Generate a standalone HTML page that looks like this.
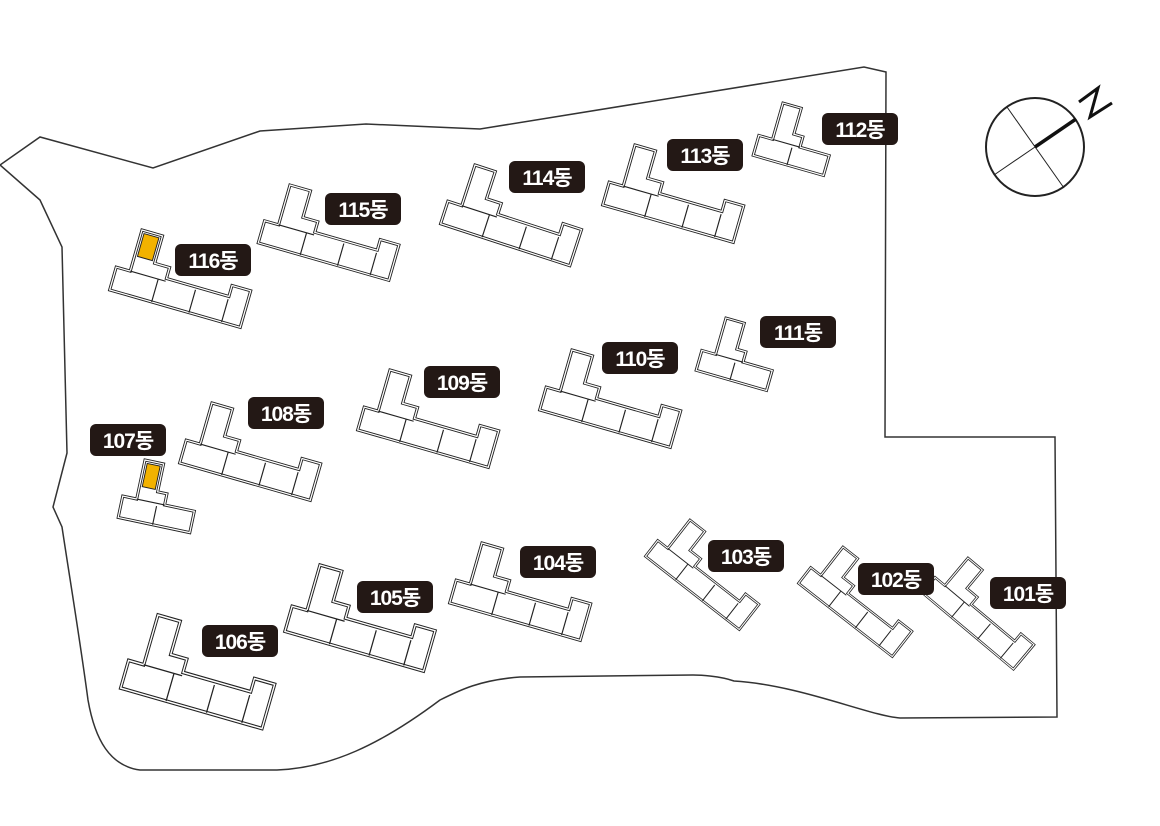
<!DOCTYPE html>
<html><head><meta charset="utf-8"><style>
html,body{margin:0;padding:0;background:#fff;}
svg{display:block}
.b{fill:#fff;stroke:#222;stroke-width:3.2;stroke-linejoin:miter}
.bi{fill:none;stroke:#fff;stroke-width:1.3}
.in{stroke:#222;stroke-width:1.2;fill:none}
.lb text{font-family:"Liberation Sans","Noto Sans CJK KR",sans-serif;font-weight:bold;font-size:21px;fill:#fff;letter-spacing:-1px}
</style></head><body>
<svg width="1160" height="826" viewBox="0 0 1160 826" xmlns="http://www.w3.org/2000/svg">
<defs>
<g id="L">
<polygon class="b" points="0,0 22,0 22,30 38,30 38,42 105,42 105,30 125,30 125,70 -15,70 -15,45 0,45"/>
<polygon class="bi" points="0,0 22,0 22,30 38,30 38,42 105,42 105,30 125,30 125,70 -15,70 -15,45 0,45"/>
<path class="in" d="M30 45V70M70 45V70M105 45V70M0 45H38"/>
</g>
<g id="LY">
<polygon class="b" points="0,0 22,0 22,30 38,30 38,42 105,42 105,30 125,30 125,70 -15,70 -15,45 0,45"/>
<polygon class="bi" points="0,0 22,0 22,30 38,30 38,42 105,42 105,30 125,30 125,70 -15,70 -15,45 0,45"/>
<polygon points="3,3 19,3 19,28 3,28" fill="#f2b200" stroke="#222" stroke-width="1"/>
<path class="in" d="M30 45V70M70 45V70M105 45V70M0 45H38"/>
</g>
<g id="S">
<polygon class="b" points="0,0 20,0 20,30 30,30 30,42 62,42 62,65 -15,65 -15,42 0,42"/>
<polygon class="bi" points="0,0 20,0 20,30 30,30 30,42 62,42 62,65 -15,65 -15,42 0,42"/>
<path class="in" d="M22 45V65M0 42H30"/>
</g>
<g id="SY">
<polygon class="b" points="0,0 20,0 20,30 30,30 30,42 62,42 62,65 -15,65 -15,42 0,42"/>
<polygon class="bi" points="0,0 20,0 20,30 30,30 30,42 62,42 62,65 -15,65 -15,42 0,42"/>
<polygon points="3,3 17,3 17,28 3,28" fill="#f2b200" stroke="#222" stroke-width="1"/>
<path class="in" d="M22 45V65M0 42H30"/>
</g>
</defs>

<path d="M0,165 L40,137 L153,168 L260,131 L366,124 L480,129 L864,67 L886,72 L885,437 L1055,437 L1057,717 L900,718 C870,716 800,685 734,681 C720,676 700,675 693,675 L520,677 C480,680 460,690 440,700 C380,745 330,768 277,770 L140,770 C110,766 95,740 88,700 C80,640 70,580 62,527 L53,507 L67,453 L62,247 L40,200 Z" fill="#fff" stroke="#333" stroke-width="1.5"/>

<!-- compass -->
<circle cx="1035" cy="147" r="49" fill="none" stroke="#222" stroke-width="2"/>
<line x1="1007" y1="107" x2="1064" y2="188" stroke="#222" stroke-width="1"/>
<line x1="994" y1="175" x2="1035" y2="147" stroke="#222" stroke-width="1"/>
<line x1="1035" y1="147" x2="1076" y2="119" stroke="#111" stroke-width="3.5"/>
<polyline points="1079,102 1098,88 1090,117 1112,103" fill="none" stroke="#111" stroke-width="3"/>

<!-- buildings -->
<use href="#LY" transform="translate(142,230) rotate(16) scale(0.97,0.95)"/>
<use href="#L" transform="translate(290,185) rotate(16) scale(0.97,0.92)"/>
<use href="#L" transform="translate(475,165) rotate(18) scale(0.97,0.95)"/>
<use href="#L" transform="translate(635,145) rotate(16) scale(0.97,0.95)"/>
<use href="#S" transform="translate(783,103) rotate(16) scale(0.95,0.9)"/>
<use href="#S" transform="translate(726,318) rotate(16) scale(0.95,0.9)"/>
<use href="#L" transform="translate(572,350) rotate(16) scale(0.97,0.95)"/>
<use href="#L" transform="translate(390,370) rotate(16) scale(0.97,0.95)"/>
<use href="#L" transform="translate(212,403) rotate(16) scale(0.97,0.95)"/>
<use href="#SY" transform="translate(145,460) rotate(12) scale(0.95,0.95)"/>
<use href="#L" transform="translate(158,615) rotate(16) scale(1.05,1.15)"/>
<use href="#L" transform="translate(320,565) rotate(16) scale(1.03,1.05)"/>
<use href="#L" transform="translate(482,543) rotate(16) scale(0.97,0.95)"/>
<use href="#L" transform="translate(690,520) rotate(38) scale(0.85,0.8)"/>
<use href="#L" transform="translate(843,547) rotate(38) scale(0.85,0.8)"/>
<use href="#L" transform="translate(968,558) rotate(40) scale(0.85,0.8)"/>

<!-- labels -->
<g class="lb">
<g transform="translate(175,244)"><rect width="76" height="32" rx="6" fill="#231815"/><text x="38" y="24" text-anchor="middle">116동</text></g>
<g transform="translate(325,193)"><rect width="76" height="32" rx="6" fill="#231815"/><text x="38" y="24" text-anchor="middle">115동</text></g>
<g transform="translate(509,161)"><rect width="76" height="32" rx="6" fill="#231815"/><text x="38" y="24" text-anchor="middle">114동</text></g>
<g transform="translate(667,139)"><rect width="76" height="32" rx="6" fill="#231815"/><text x="38" y="24" text-anchor="middle">113동</text></g>
<g transform="translate(822,113)"><rect width="76" height="32" rx="6" fill="#231815"/><text x="38" y="24" text-anchor="middle">112동</text></g>
<g transform="translate(760,316)"><rect width="76" height="32" rx="6" fill="#231815"/><text x="38" y="24" text-anchor="middle">111동</text></g>
<g transform="translate(602,342)"><rect width="76" height="32" rx="6" fill="#231815"/><text x="38" y="24" text-anchor="middle">110동</text></g>
<g transform="translate(424,366)"><rect width="76" height="32" rx="6" fill="#231815"/><text x="38" y="24" text-anchor="middle">109동</text></g>
<g transform="translate(248,397)"><rect width="76" height="32" rx="6" fill="#231815"/><text x="38" y="24" text-anchor="middle">108동</text></g>
<g transform="translate(90,424)"><rect width="76" height="32" rx="6" fill="#231815"/><text x="38" y="24" text-anchor="middle">107동</text></g>
<g transform="translate(202,625)"><rect width="76" height="32" rx="6" fill="#231815"/><text x="38" y="24" text-anchor="middle">106동</text></g>
<g transform="translate(357,581)"><rect width="76" height="32" rx="6" fill="#231815"/><text x="38" y="24" text-anchor="middle">105동</text></g>
<g transform="translate(520,546)"><rect width="76" height="32" rx="6" fill="#231815"/><text x="38" y="24" text-anchor="middle">104동</text></g>
<g transform="translate(708,540)"><rect width="76" height="32" rx="6" fill="#231815"/><text x="38" y="24" text-anchor="middle">103동</text></g>
<g transform="translate(858,563)"><rect width="76" height="32" rx="6" fill="#231815"/><text x="38" y="24" text-anchor="middle">102동</text></g>
<g transform="translate(990,577)"><rect width="76" height="32" rx="6" fill="#231815"/><text x="38" y="24" text-anchor="middle">101동</text></g>
</g>
</svg>
</body></html>
